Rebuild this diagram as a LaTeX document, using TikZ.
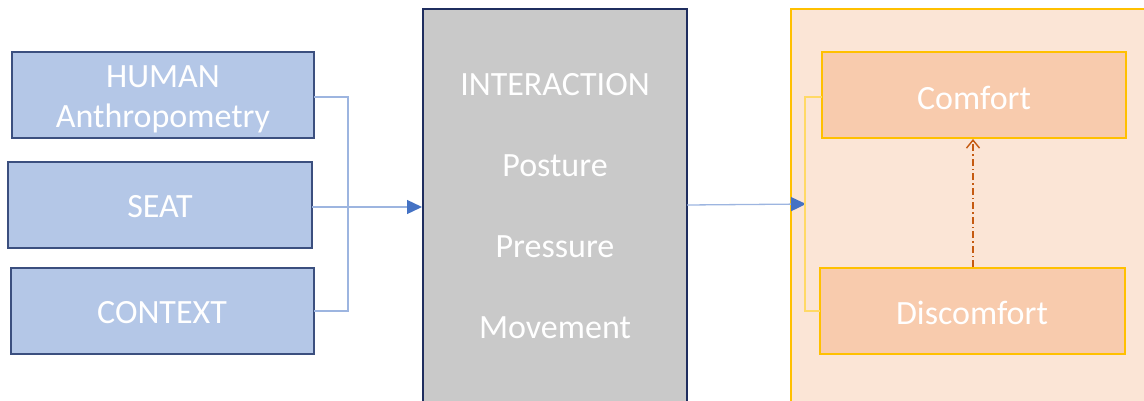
\documentclass[tikz,border=0pt]{standalone}
\usepackage{fontspec}
\setmainfont{Carlito}
\usetikzlibrary{arrows.meta}
\definecolor{inblue}{HTML}{B4C7E7}
\definecolor{inborder}{HTML}{3B4F7F}
\definecolor{midgray}{HTML}{C9C9C9}
\definecolor{navy}{HTML}{1F2E5F}
\definecolor{paleorange}{HTML}{FBE5D6}
\definecolor{peach}{HTML}{F8CBAD}
\definecolor{gold}{HTML}{FFC000}
\definecolor{linkblue}{HTML}{9DB5E0}
\definecolor{arrowblue}{HTML}{4472C4}
\definecolor{rust}{HTML}{C55A11}
\definecolor{lightgold}{HTML}{FFD966}
\tikzset{
  inbox/.style={draw=inborder, line width=1.5pt, fill=inblue},
  outbox/.style={draw=gold, line width=2pt, fill=peach},
  label/.style={text=white, font=\fontsize{34}{40}\selectfont, align=center},
  link/.style={draw=linkblue, line width=1.3pt},
  flow/.style={link, -{Triangle[length=15pt,width=14pt,color=arrowblue]}},
}
\begin{document}
\begin{tikzpicture}[x=1pt,y=-1pt]
\useasboundingbox (0,0) rectangle (1144,400);
% input factors
\draw[inbox] (12,52) rectangle (314,138);
\node[label] (human) at (163,99) {HUMAN\\Anthropometry};
\coordinate (humanR) at (314,97);
\draw[inbox] (8,162) rectangle (312,248);
\node[label] (seat) at (160,207) {SEAT};
\coordinate (seatR) at (312,207);
\draw[inbox] (11,268) rectangle (314,354);
\node[label] (context) at (162,313) {CONTEXT};
\coordinate (contextR) at (314,311);
% interaction column
\draw[fill=midgray, draw=navy, line width=2pt] (423,9) -- (423,402) -- (687,402) -- (687,9) -- cycle;
\coordinate (interL) at (422,207);
\coordinate (interR) at (687,205);
\node[label] (interaction) at (555,85) {INTERACTION};
\node[label] (posture) at (555,166) {Posture};
\node[label] (pressure) at (555,247) {Pressure};
\node[label] (movement) at (555,328) {Movement};
% outcome column
\draw[fill=paleorange, draw=gold, line width=1.5pt] (791,9) -- (791,402) -- (1146,402) -- (1146,9) -- cycle;
\coordinate (outL) at (806,204);
\draw[outbox] (822,52) rectangle (1126,138);
\node[label] (comfort) at (974,98) {Comfort};
\draw[outbox] (820,268) rectangle (1125,354);
\node[label] (discomfort) at (972,313) {Discomfort};
\coordinate (comfortL) at (822,97);
\coordinate (discomfortL) at (820,311);
\coordinate (comfortB) at (973,139);
\coordinate (discomfortT) at (973,267);
% connectors
\draw[link] (humanR) -- (348,97) -- (348,311) -- (contextR);
\draw[flow] (seatR) -- (interL);
\draw[flow] (interR) -- (outL);
\draw[draw=lightgold, line width=1.3pt] (comfortL) -- (805,97) -- (805,311) -- (discomfortL);
\draw[rust, line width=1.4pt, dash pattern=on 7pt off 3pt on 1.5pt off 3pt, -{Straight Barb[length=8pt,width=13pt]}] (discomfortT) -- (comfortB);
\end{tikzpicture}
\end{document}
